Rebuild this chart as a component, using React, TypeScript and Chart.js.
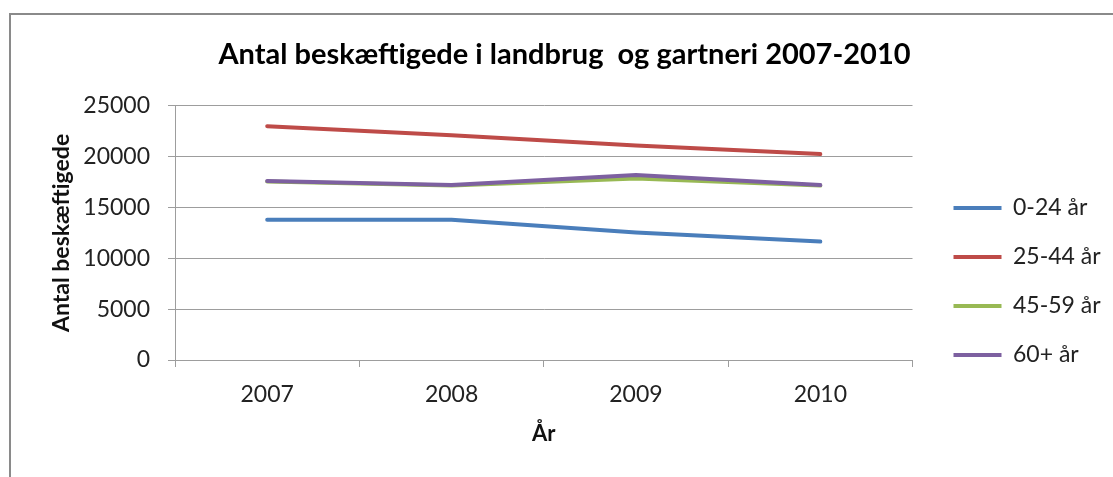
import React, { useEffect, useRef } from "react";
import { Chart, registerables } from "chart.js";

Chart.register(...registerables);

const years = ["2007", "2008", "2009", "2010"];
const age0to24 = [13800, 13800, 12550, 11650];
const age25to44 = [23000, 22100, 21100, 20250];
const age45to59 = [17550, 17150, 17850, 17150];
const age60plus = [17600, 17200, 18200, 17200];
const seriesLabels = ["0-24 år", "25-44 år", "45-59 år", "60+ år"];
const seriesColors = ["#4A7EBB", "#BE4B48", "#98B954", "#7D60A0"];
const chartTitle = "Antal beskæftigede i landbrug  og gartneri 2007-2010";
const yTitle = "Antal beskæftigede";
const xTitle = "År";

const FONT = "Lato, 'Open Sans', sans-serif";
const GRID = "#9d9d9d";

const frame = {
  id: "frame",
  beforeDraw(chart: any) {
    const ctx = chart.ctx;
    ctx.save();
    ctx.fillStyle = "#ffffff";
    ctx.fillRect(0, 0, chart.width, chart.height);
    ctx.strokeStyle = "#8a8a8a";
    ctx.lineWidth = 2;
    ctx.strokeRect(10, 14, chart.width + 50, chart.height + 50);
    ctx.restore();
  },
};

export default function App() {
  const ref = useRef<HTMLCanvasElement | null>(null);

  useEffect(() => {
    document.body.style.margin = "0";
    const canvas = ref.current;
    if (!canvas) return;
    const values = [age0to24, age25to44, age45to59, age60plus];
    const chart = new Chart(canvas, {
      type: "line",
      data: {
        labels: years,
        datasets: values.map((v, i) => ({
          label: seriesLabels[i],
          data: v,
          borderColor: seriesColors[i],
          backgroundColor: seriesColors[i],
          borderWidth: 4,
          pointRadius: 0,
          tension: 0,
          borderCapStyle: "round" as const,
          borderJoinStyle: "round" as const,
          order: 4 - i,
          yAxisID: "y",
        })),
      },
      options: {
        responsive: false,
        animation: false,
        layout: { padding: { left: 20, right: 4, top: 0, bottom: 0 } },
        plugins: {
          tooltip: { enabled: false },
          title: {
            display: true,
            text: chartTitle,
            color: "#000",
            font: { family: FONT, size: 29, weight: "bold" },
            padding: { top: 37, bottom: 34 },
          },
          legend: {
            position: "right",
            align: "center",
            title: { display: true, text: "", padding: { top: 62, bottom: 0 }, font: { size: 20 } },
            labels: {
              usePointStyle: true,
              pointStyle: "line",
              pointStyleWidth: 48,
              padding: 26,
              color: "#222",
              font: { family: FONT, size: 23 },
              sort: (a: any, b: any) => a.datasetIndex - b.datasetIndex,
            },
          },
        },
        scales: {
          x: {
            type: "category",
            offset: true,
            grid: { offset: true, drawOnChartArea: false, drawTicks: true, tickLength: 7, color: GRID },
            border: { color: GRID },
            ticks: { padding: 14, color: "#222", font: { family: FONT, size: 23 }, maxRotation: 0, autoSkip: false },
            title: {
              display: true,
              text: xTitle,
              color: "#111",
              font: { family: FONT, size: 22, weight: "bold" },
              padding: { top: 0, bottom: 30 },
            },
            afterFit: (s: any) => {
              s.height = 117;
            },
          },
          y: {
            type: "linear",
            min: 0,
            max: 25000,
            ticks: {
              stepSize: 5000,
              padding: 18,
              color: "#222",
              font: { family: FONT, size: 23 },
              callback: (v: any) => String(v),
            },
            grid: { color: GRID, tickLength: 7, drawTicks: true },
            border: { color: GRID },
            title: {
              display: true,
              text: yTitle,
              color: "#111",
              font: { family: FONT, size: 23, weight: "bold" },
              padding: { top: 28, bottom: 0 },
            },
            afterFit: (s: any) => {
              s.width = 155;
            },
          },
          y2: {
            type: "linear",
            position: "right",
            display: true,
            grid: { display: false, drawTicks: false },
            border: { display: false },
            ticks: { display: false },
            afterFit: (s: any) => {
              s.width = 15;
            },
          },
        },
      },
      plugins: [frame],
    } as any);
    return () => chart.destroy();
  }, []);

  return <canvas ref={ref} width={1113} height={477} style={{ display: "block", width: 1113, height: 477 }} />;
}
